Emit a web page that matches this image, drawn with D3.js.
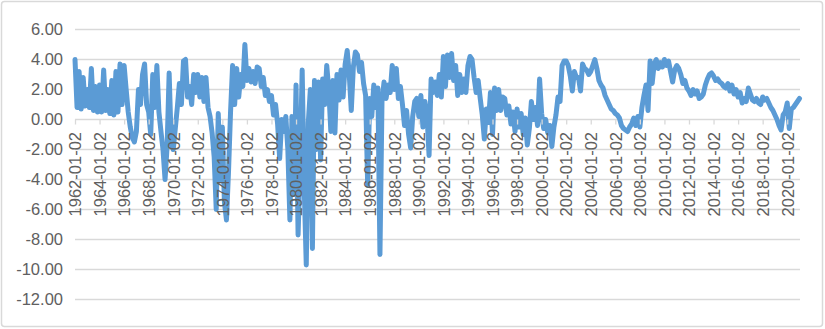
<!DOCTYPE html>
<html>
<head>
<meta charset="utf-8">
<script src="https://cdn.jsdelivr.net/npm/d3@7"></script>
<style>
body { margin: 0; background: #fff; }
text { font-family: "Liberation Sans", Arial, sans-serif; }
</style>
</head>
<body>
<div class="chart"></div>
<script>
// tick labels on the category axis (every 2 years)
var tickLabels = ["1962-01-02", "1964-01-02", "1966-01-02", "1968-01-02", "1970-01-02",
	"1972-01-02", "1974-01-02", "1976-01-02", "1978-01-02", "1980-01-02",
	"1982-01-02", "1984-01-02", "1986-01-02", "1988-01-02", "1990-01-02",
	"1992-01-02", "1994-01-02", "1996-01-02", "1998-01-02", "2000-01-02",
	"2002-01-02", "2004-01-02", "2006-01-02", "2008-01-02", "2010-01-02",
	"2012-01-02", "2014-01-02", "2016-01-02", "2018-01-02", "2020-01-02"];

var yTicks = [6, 4, 2, 0, -2, -4, -6, -8, -10, -12];

// series, 6 readings per year starting 1962
var firstYear = 1962;
var perYear = 6;

var s1960s = [
	4.0, 0.8, 3.2, 0.7, 2.8, 0.9,
	2.0, 0.8, 3.4, 0.6, 2.2, 0.5,
	2.3, 0.5, 3.3, 0.6, 2.0, 0.4,
	2.6, 0.3, 3.2, 0.5, 3.7, 1.0,
	3.6, 2.0, 0.5, -0.5, -1.2, -1.5,
	-0.8, 2.0, 1.0, 3.0, 3.7, 1.0,
	0.5, -1.0, 3.0, 0.8, 3.6, 0.5,
	-0.8, -2.0, -4.0, -1.8, 3.1, -1.5];

var s1970s = [
	-2.0, -0.6, 0.8, 2.4, 1.0, 3.9,
	4.0, 1.5, 2.2, 1.0, 3.0, 1.8,
	3.0, 1.5, 2.8, 1.2, 2.8, 0.8,
	0.2, -0.9, -2.5, -6.0, 0.4, -4.0,
	-0.5, -5.5, -6.7, -3.5, 0.5, 3.6,
	1.0, 3.4, 1.5, 3.0, 2.2, 5.0,
	2.6, 3.4, 2.5, 3.2, 2.4, 3.5,
	3.4, 2.2, 2.8, 1.6, 2.0, 1.2,
	1.6, 0.3, 1.0, -0.3, -2.6, 0.0,
	-0.8, 0.2, -2.0, -6.7, 0.2, -5.0];

var s1980s = [
	2.3, -7.7, -3.0, 3.3, -4.5, -9.7,
	-0.2, 2.0, -8.6, 2.6, -2.0, 2.5,
	-2.7, 2.7, 1.0, 3.6, 2.0, -0.8,
	2.6, -0.9, 3.0, 1.3, 3.3, 1.5,
	3.7, 4.6, 3.0, 0.6, 3.5, 4.5,
	4.3, 3.2, 3.8, 2.4, 1.6, -4.4,
	1.4, 0.2, 2.3, 0.8, 2.1, -9.0,
	1.2, 2.5, 1.4, 2.3, 1.8, 3.6,
	2.0, 3.4, 1.4, 2.2, 1.0, -0.4,
	0.6, -1.0, -1.9, 0.2, 1.2, 1.4];

var s1990s = [
	0.2, 1.6, -0.5, 1.2, 0.3, -2.4,
	2.7, 1.8, 2.5, 1.6, 3.0, 1.5,
	4.2, 2.2, 4.3, 2.8, 4.4, 2.6,
	3.6, 1.6, 3.0, 1.8, 2.7, 1.8,
	3.6, 4.2, 4.0, 2.8, 1.8, 2.6,
	1.4, 0.3, -1.3, 0.7, -0.2, 1.8,
	-1.0, 2.1, 0.6, 2.0, 0.6, 1.5,
	1.4, 0.3, 0.9, -0.3, 0.5, -0.8,
	0.7, -0.5, 0.4, -1.0, 0.1, -1.7,
	-0.6, 1.2, 0.0, 0.8, -0.4, 2.7];

var s2000s = [
	0.4, -0.6, 0.0, -0.9, -0.4, -1.8,
	-0.5, 0.3, 1.5, 1.2, 3.6, 3.9,
	3.9, 3.6, 2.9, 1.9, 3.2, 2.8,
	2.8, 1.9, 3.7, 3.4, 3.3, 3.0,
	3.2, 3.6, 4.0, 3.4, 2.6, 2.3,
	2.1, 1.6, 1.3, 1.0, 0.7, 0.6,
	0.4, 0.3, 0.1, -0.4, -0.6, -0.7,
	-0.8, -0.5, -0.3, 0.1, -0.4, 0.2,
	-0.5, 0.8, 1.6, 2.3, 0.6, 3.9,
	2.4, 3.7, 4.0, 3.4, 3.8, 3.5];

var s2010s = [
	4.0, 3.6, 3.9, 3.2, 2.5, 3.3,
	3.6, 3.4, 3.0, 2.4, 2.6, 2.1,
	1.9, 1.6, 2.0, 1.7, 1.9, 1.4,
	1.5, 1.7, 2.3, 2.7, 3.0, 3.1,
	2.9, 2.6, 2.7, 2.5, 2.4, 2.2,
	2.1, 2.4, 1.9, 2.3, 1.7, 2.0,
	1.5, 1.8, 1.1, 1.4, 1.2, 2.1,
	1.7, 1.3, 1.2, 1.4, 1.1, 1.0,
	1.5, 1.3, 1.4, 1.1, 0.8, 0.6,
	0.3, 0.0, -0.4, -0.7, 0.3, 0.5];

var s2020s = [1.1, -0.6, 0.7, 0.8, 1.0, 1.2, 1.4];

var values = [].concat(s1960s, s1970s, s1980s, s1990s, s2000s, s2010s, s2020s);
var data = values.map(function(v, i) { return {t: firstYear + i / perYear, v: v}; });

var chart = d3.select(".chart");
var svg = chart.append("svg").attr("width", 825).attr("height", 329);

// outer frame
svg.append("rect")
	.attr("x", 1.5).attr("y", 1.5)
	.attr("width", 821).attr("height", 325)
	.attr("rx", 3)
	.attr("fill", "#fff")
	.attr("stroke", "#d9d9d9")
	.attr("stroke-width", 1.5);

var y = d3.scaleLinear().domain([-12, 6]).range([299.5, 29.5]);
var x = d3.scaleLinear().domain([1962, 2021]).range([75, 799.5]);

// horizontal gridlines
svg.append("g").selectAll("line")
	.data(yTicks)
	.enter().append("line")
	.attr("x1", 75).attr("x2", 800)
	.attr("y1", function(d) { return y(d); })
	.attr("y2", function(d) { return y(d); })
	.attr("stroke", "#d9d9d9")
	.attr("stroke-width", 1.3);

// y axis labels
var yAxis = d3.axisLeft(y)
	.tickValues(yTicks)
	.tickSize(0)
	.tickPadding(0)
	.tickFormat(function(d) { return d.toFixed(2); });

var yAxisGroup = svg.append("g").attr("transform", "translate(63,0)").call(yAxis);
yAxisGroup.select(".domain").remove();
yAxisGroup.selectAll("text")
	.attr("font-size", "16.5px")
	.attr("font-family", "Liberation Sans, Arial, sans-serif")
	.attr("fill", "#606060");

// the series
var line = d3.line()
	.x(function(d) { return x(d.t); })
	.y(function(d) { return y(d.v); });

svg.append("path")
	.datum(data)
	.attr("d", line)
	.attr("fill", "none")
	.attr("stroke", "#5b9bd5")
	.attr("stroke-width", 5)
	.attr("stroke-linejoin", "round")
	.attr("stroke-linecap", "round");

// category axis crossing at zero
var tickYears = tickLabels.map(function(s) { return +s.slice(0, 4); });

var xAxis = d3.axisBottom(x)
	.tickValues(tickYears)
	.tickSize(5)
	.tickSizeOuter(0)
	.tickFormat(function(d, i) { return tickLabels[i]; });

var xAxisGroup = svg.append("g").attr("transform", "translate(0," + y(0) + ")").call(xAxis);
xAxisGroup.select(".domain").remove();
xAxisGroup.selectAll("line").attr("stroke", "#d9d9d9").attr("stroke-width", 1.3);
xAxisGroup.selectAll("text")
	.attr("transform", "rotate(-90)")
	.attr("text-anchor", "end")
	.attr("x", -12.5)
	.attr("y", 0)
	.attr("dy", "0.35em")
	.attr("font-size", "16.5px")
	.attr("font-family", "Liberation Sans, Arial, sans-serif")
	.attr("fill", "#606060");
</script>
</body>
</html>
